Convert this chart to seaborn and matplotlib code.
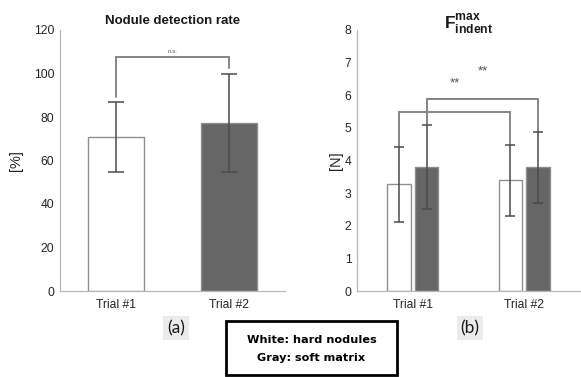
import matplotlib
matplotlib.use("Agg")
import matplotlib.pyplot as plt
from matplotlib.patches import Rectangle
import seaborn as sns
import pandas as pd

# ---- data -------------------------------------------------------------
trials = ["Trial #1", "Trial #2"]
materials = ["hard", "soft"]

detect_rate = [70.8, 77.4]          # [%]
detect_err = [16.0, 22.5]

force_hard = [3.27, 3.39]           # [N]
force_hard_err = [1.15, 1.10]
force_soft = [3.80, 3.79]
force_soft_err = [1.30, 1.08]

rate_ticks = [0, 20, 40, 60, 80, 100, 120]
force_ticks = [0, 1, 2, 3, 4, 5, 6, 7, 8]

# ---- style ------------------------------------------------------------
sns.set_theme(style="white")
plt.rcParams["font.family"] = ["Liberation Sans", "DejaVu Sans"]
plt.rcParams["mathtext.fontset"] = "custom"
plt.rcParams["mathtext.bf"] = "Liberation Sans:bold"
plt.rcParams["mathtext.rm"] = "Liberation Sans"

WHITE = "#ffffff"
DARK = "#666666"
EDGE = "#8f8f8f"
ERR = "#4a4a4a"
BRACKET = "#858585"
SPINE = "#b8b8b8"
TEXT = "#262626"

fig = plt.figure(figsize=(5.81, 3.77), dpi=100)
ax1 = fig.add_axes([60 / 581, 1 - 291 / 377, 225 / 581, 261 / 377])
ax2 = fig.add_axes([357 / 581, 1 - 291 / 377, 223 / 581, 261 / 377])


def style_axes(ax, ticks, ylabel, labelpad):
    for side in ("top", "right"):
        ax.spines[side].set_visible(False)
    for side in ("left", "bottom"):
        ax.spines[side].set_color(SPINE)
        ax.spines[side].set_linewidth(0.9)
    ax.set_xlim(-0.5, 1.5)
    ax.set_ylim(ticks[0], ticks[-1])
    ax.set_yticks(ticks)
    ax.tick_params(axis="y", direction="in", length=2.5, width=0.8,
                   color=SPINE, labelsize=8.7, pad=4, labelcolor=TEXT)
    ax.tick_params(axis="x", length=0, labelsize=8.7, pad=6, labelcolor=TEXT)
    ax.set_xlabel("")
    ax.set_ylabel(ylabel, fontsize=10.5, color=TEXT, labelpad=labelpad)


def bar_centers_tops(container):
    xs = [b.get_x() + b.get_width() / 2 for b in container]
    ys = [b.get_height() for b in container]
    return xs, ys


def bracket(ax, x0, x1, y, y0, y1, color=BRACKET):
    ax.plot([x0, x0, x1, x1], [y0, y, y, y1], color=color, lw=1.4,
            solid_joinstyle="miter", zorder=4)


# ---- (a) nodule detection rate ---------------------------------------
df_rate = pd.DataFrame({"trial": trials, "rate": detect_rate})
sns.barplot(data=df_rate, x="trial", y="rate", hue="trial", order=trials,
            hue_order=trials, palette=[WHITE, DARK], width=0.5,
            errorbar=None, legend=False, edgecolor=EDGE, linewidth=1.0,
            ax=ax1)
style_axes(ax1, rate_ticks, "[%]", 8)
ax1.set_title("Nodule detection rate", fontsize=9.5, fontweight="bold",
              color="#1a1a1a", pad=4)

rate_x = []
for cont, val, err in zip(ax1.containers, detect_rate, detect_err):
    xs, ys = bar_centers_tops(cont)
    xs = [x for x, h in zip(xs, ys) if h > 0]
    ax1.errorbar(xs, [val], yerr=[err], fmt="none", ecolor=ERR,
                 elinewidth=1.1, capsize=5.5, capthick=1.1, zorder=5)
    rate_x.append(xs[0])

ns_y = 107.7
bracket(ax1, rate_x[0], rate_x[1], ns_y,
        detect_rate[0] + detect_err[0] + 2.5,
        detect_rate[1] + detect_err[1] + 2.5)
ax1.text(sum(rate_x) / 2, ns_y + 1.2, "n.s.", ha="center", va="bottom",
         fontsize=4.5, color="#555555")

# ---- (b) maximum indentation force -----------------------------------
df_force = pd.DataFrame({
    "trial": trials * 2,
    "material": [materials[0]] * 2 + [materials[1]] * 2,
    "force": force_hard + force_soft,
})
sns.barplot(data=df_force, x="trial", y="force", hue="material",
            order=trials, hue_order=materials, palette=[WHITE, DARK],
            width=0.5, gap=0.16, errorbar=None, legend=False,
            edgecolor=EDGE, linewidth=1.0, ax=ax2)
style_axes(ax2, force_ticks, "[N]", 1)
ax2.set_title(r"$\mathbf{F}^{\mathbf{max}}_{\mathbf{indent}}$",
              fontsize=12.5, color="#1a1a1a", pad=1)

force_x = {}
for cont, mat, vals, errs in zip(ax2.containers, materials,
                                 [force_hard, force_soft],
                                 [force_hard_err, force_soft_err]):
    xs, _ = bar_centers_tops(cont)
    ax2.errorbar(xs, vals, yerr=errs, fmt="none", ecolor=ERR,
                 elinewidth=1.1, capsize=3.8, capthick=1.1, zorder=5)
    force_x[mat] = xs

# hard nodules: Trial #1 vs Trial #2
hard_y = 5.48
bracket(ax2, force_x["hard"][0], force_x["hard"][1], hard_y,
        force_hard[0] + force_hard_err[0], force_hard[1] + force_hard_err[1])
ax2.text(sum(force_x["hard"]) / 2, hard_y + 0.88, "**", ha="center",
         va="center", fontsize=9.5, color="#555555")

# soft matrix: Trial #1 vs Trial #2
soft_y = 5.88
bracket(ax2, force_x["soft"][0], force_x["soft"][1], soft_y,
        force_soft[0] + force_soft_err[0], force_soft[1] + force_soft_err[1])
ax2.text(sum(force_x["soft"]) / 2, soft_y + 0.84, "**", ha="center",
         va="center", fontsize=9.5, color="#555555")

# ---- panel labels and colour key --------------------------------------
for label, xpx in (("(a)", 176), ("(b)", 470)):
    fig.text(xpx / 581, 1 - 328 / 377, label, ha="center", va="center",
             fontsize=12.5, family="Lato", color="#1a1a1a",
             bbox=dict(boxstyle="square,pad=0.22", facecolor="#ebebeb",
                       edgecolor="none"))

fig.patches.append(Rectangle((226 / 581, 1 - 375 / 377), 171 / 581,
                             54 / 377, transform=fig.transFigure,
                             facecolor="white", edgecolor="black",
                             linewidth=2.0))
fig.text(311.5 / 581, 1 - 340 / 377, "White: hard nodules", ha="center",
         va="center", fontsize=8.1, fontweight="bold", family="DejaVu Sans",
         color="black")
fig.text(311.5 / 581, 1 - 358 / 377, "Gray: soft matrix", ha="center",
         va="center", fontsize=8.1, fontweight="bold", family="DejaVu Sans",
         color="black")

fig.savefig("out.png", dpi=100)
